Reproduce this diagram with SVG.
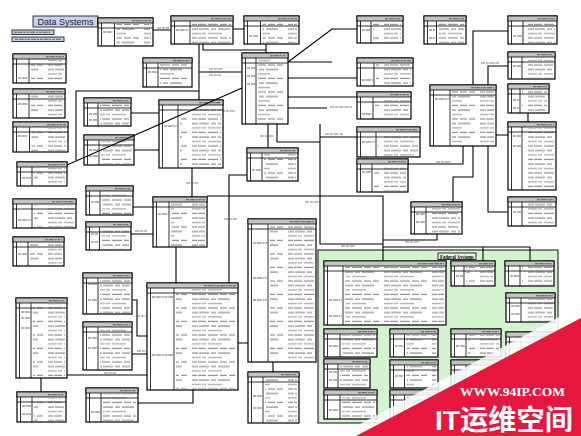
<svg xmlns="http://www.w3.org/2000/svg" width="581" height="436" viewBox="0 0 581 436">
<style>
.b{fill:#fff;stroke:#000;stroke-width:1.2}
.h{fill:#c4c4c4;stroke:#000;stroke-width:.8}
.d{fill:none;stroke:#000;stroke-width:.8}
.t{fill:url(#tx);opacity:.6}
.k{fill:none;stroke:#333;stroke-width:1.1;stroke-dasharray:3 .8 5 .8 2 .8;opacity:.75}
.c{fill:none;stroke:#000;stroke-width:1.1}
.lb{fill:none;stroke:#555;stroke-width:1.1;stroke-dasharray:4 .8 3 .8 5 .8;opacity:.75}
.bl{fill:#c8d3ea;stroke:#222;stroke-width:.9}
</style>
<defs>
<pattern id="tx" width="48" height="13.5" patternUnits="userSpaceOnUse">
<path d="M0 2h6M7 2h10M19 2h5M26 2h12M0 6.5h9M10 6.5h4M16 6.5h14M0 11h5M6 11h8M16 11h10M28 11h7M37 11h6" stroke="#444" stroke-width="1.1"/>
</pattern>
</defs>
<rect width="581" height="436" fill="#fff"/>

<g id="title">
<rect class="bl" x="33" y="16" width="65" height="11"/>
<text x="65.5" y="25" font-family="Liberation Sans, Arial, sans-serif" font-size="9" fill="#1a2240" text-anchor="middle">Data Systems</text>
<rect class="bl" x="12" y="30" width="42" height="4.5"/>
<rect class="bl" x="12" y="37" width="52" height="4.5"/>
<path class="k" d="M14 32.3h37M15 39.3h46"/>
</g>

<g id="federal-region">
<rect x="318" y="250" width="240" height="173" fill="#d3f4cf" stroke="#333" stroke-width="1.2"/>
<rect x="438" y="253" width="38" height="6.5" fill="#e8f7e4" stroke="#000" stroke-width=".8"/>
<text x="457" y="258.5" font-family="Liberation Serif, Times New Roman, serif" font-size="5.5" font-weight="bold" text-anchor="middle" textLength="34" lengthAdjust="spacingAndGlyphs">Federal Systems</text>
</g>

<g id="connectors">
<path class="c" d="M153 30H171M233 29H244M203 44V50H266M266 44V53M199 44V100M199 91H76V160M199 72H242"/>
<path class="c" d="M288 62L332 29H357M288 62H332M288 78H357M288 97H357M288 108H327"/>
<path class="c" d="M268 124V148M277 124V142H320M320 124V244H383M320 137H357"/>
<path class="c" d="M131 113H159M134 150H159M133 207H153M131 234H153M192 168V197M176 247V283M247 175H229V283"/>
<path class="c" d="M207 196H383V261M383 240H437V234M383 247H530V261M483 247V261"/>
<path class="c" d="M408 164H463V146M453 202V177H473V146M488 146V212H508M473 85V31H508M488 85V66H508M528 113V122M496 135H508"/>
<path class="c" d="M238 343H248M273 362V372M67 375H147M41 378V392M132 354H147M132 300H137V336H147M138 403H193V390"/>
<path class="lb" d="M157 28h12M209 69h14M209 75h12M221 111h14M330 107h22M325 134h18M260 136h14M481 63h18M436 162h15M186 183h12M135 231h12M224 219h13M305 202h15M341 246h14M405 242h15M104 373h12M137 351h9M136 316h10"/>
</g>

<g id="t1"><rect class="b" x="98" y="18" width="55" height="28"/><rect class="h" x="98" y="18" width="55" height="5"/><path class="d" d="M98 28h55M101.5 23v23M114.5 23v23"/><rect class="t" x="116.5" y="24" width="34.5" height="21"/><path class="k" d="M132 20.7h19M103 32h10"/></g>
<g id="t2"><rect class="b" x="171" y="16" width="62" height="28"/><rect class="h" x="171" y="16" width="62" height="5"/><path class="d" d="M171 26h62M174.5 21v23M190 21v23"/><rect class="t" x="192" y="22" width="39" height="21"/><path class="k" d="M211 18.7h20M176 30h13"/></g>
<g id="t3"><rect class="b" x="244" y="16" width="55" height="28"/><rect class="h" x="244" y="16" width="55" height="5"/><path class="d" d="M244 26h55M247.5 21v23M260.5 21v23"/><rect class="t" x="262.5" y="22" width="34.5" height="21"/><path class="k" d="M278 18.7h19M249 36h10"/></g>
<g id="t4"><rect class="b" x="357" y="16" width="46" height="27"/><rect class="h" x="357" y="16" width="46" height="5"/><path class="d" d="M357 26h46M360.5 21v22M371 21v22"/><rect class="t" x="373" y="22" width="28" height="20"/><path class="k" d="M385 18.7h16M362 30h8"/></g>
<g id="t5"><rect class="b" x="424" y="16" width="42" height="28"/><rect class="h" x="424" y="16" width="42" height="5"/><path class="d" d="M424 26h42M427.5 21v23M436.5 21v23"/><rect class="t" x="438.5" y="22" width="25.5" height="21"/><path class="k" d="M449 18.7h15M429 30h6M429 38h6"/></g>
<g id="t6"><rect class="b" x="508" y="16" width="49" height="28"/><rect class="h" x="508" y="16" width="49" height="5"/><path class="d" d="M508 26h49M511.5 21v23M523 21v23"/><rect class="t" x="525" y="22" width="30" height="21"/><path class="k" d="M538 18.7h17M513 36h9"/></g>
<g id="t7"><rect class="b" x="13" y="54" width="53" height="29"/><rect class="h" x="13" y="54" width="53" height="5"/><path class="d" d="M13 64h53M16.5 59v24M29 59v24"/><rect class="t" x="31" y="60" width="33" height="22"/><path class="k" d="M46 56.7h18M18 78h10"/></g>
<g id="t8"><rect class="b" x="143" y="58" width="49" height="29"/><rect class="h" x="143" y="58" width="49" height="5"/><path class="d" d="M143 68h49M146.5 63v24M158 63v24"/><rect class="t" x="160" y="64" width="30" height="22"/><path class="k" d="M173 60.7h17M148 72h9"/></g>
<g id="t9"><rect class="b" x="242" y="53" width="46" height="71"/><rect class="h" x="242" y="53" width="46" height="5"/><path class="d" d="M242 63h46M245.5 58v66M256 58v66"/><rect class="t" x="258" y="59" width="28" height="64"/><path class="k" d="M270 55.7h16M247 68h8M247 76h8M247 84h8"/></g>
<g id="t10"><rect class="b" x="357" y="58" width="56" height="28"/><rect class="h" x="357" y="58" width="56" height="5"/><path class="d" d="M357 68h56M360.5 63v23M374 63v23"/><rect class="t" x="376" y="64" width="35" height="21"/><path class="k" d="M391 60.7h20M362 80h11"/></g>
<g id="t11"><rect class="b" x="508" y="52" width="47" height="27"/><rect class="h" x="508" y="52" width="47" height="5"/><path class="d" d="M508 62h47M511.5 57v22M522 57v22"/><rect class="t" x="524" y="58" width="29" height="20"/><path class="k" d="M537 54.7h16M513 66h8"/></g>
<g id="t12"><rect class="b" x="13" y="89" width="52" height="29"/><rect class="h" x="13" y="89" width="52" height="5"/><path class="d" d="M13 99h52M16.5 94v24M29 94v24"/><rect class="t" x="31" y="95" width="32" height="22"/><path class="k" d="M46 91.7h17M18 104h10"/></g>
<g id="t13"><rect class="b" x="357" y="92" width="54" height="27"/><rect class="h" x="357" y="92" width="54" height="5"/><path class="d" d="M357 102h54M360.5 97v22M373 97v22"/><rect class="t" x="375" y="98" width="34" height="20"/><path class="k" d="M390 94.7h19M362 114h10"/></g>
<g id="t14"><rect class="b" x="508" y="84" width="41" height="29"/><rect class="h" x="508" y="84" width="41" height="5"/><path class="d" d="M508 94h41M511.5 89v24M520 89v24"/><rect class="t" x="522" y="90" width="25" height="22"/><path class="k" d="M533 86.7h14M513 100h6M513 108h6"/></g>
<g id="t15"><rect class="b" x="430" y="85" width="66" height="61"/><rect class="h" x="430" y="85" width="66" height="5"/><path class="d" d="M430 95h66M433.5 90v56M450 90v56"/><rect class="t" x="452" y="91" width="42" height="54"/><path class="k" d="M471 87.7h23M435 99h14"/></g>
<g id="t16"><rect class="b" x="84" y="98" width="47" height="28"/><rect class="h" x="84" y="98" width="47" height="5"/><path class="d" d="M84 108h47M87.5 103v23M98 103v23"/><rect class="t" x="100" y="104" width="29" height="21"/><path class="k" d="M113 100.7h16M89 114h8M89 120h8"/></g>
<g id="t17"><rect class="b" x="159" y="100" width="64" height="68"/><rect class="h" x="159" y="100" width="64" height="5"/><path class="d" d="M159 110h64M162.5 105v63M178 105v63"/><rect class="t" x="180" y="106" width="41" height="61"/><path class="k" d="M199 102.7h22M164 126h13"/></g>
<g id="t18"><rect class="b" x="13" y="122" width="55" height="30"/><rect class="h" x="13" y="122" width="55" height="5"/><path class="d" d="M13 132h55M16.5 127v25M29.5 127v25"/><rect class="t" x="31.5" y="128" width="34.5" height="23"/><path class="k" d="M47 124.7h19M18 136h10"/></g>
<g id="t19"><rect class="b" x="357" y="127" width="63" height="30"/><rect class="h" x="357" y="127" width="63" height="5"/><path class="d" d="M357 137h63M360.5 132v25M376 132v25"/><rect class="t" x="378" y="133" width="40" height="23"/><path class="k" d="M396 129.7h22M362 142h13"/></g>
<g id="t20"><rect class="b" x="508" y="122" width="48" height="68"/><rect class="h" x="508" y="122" width="48" height="5"/><path class="d" d="M508 132h48M511.5 127v63M522 127v63"/><rect class="t" x="524" y="128" width="30" height="61"/><path class="k" d="M537 124.7h17M513 136h8M513 146h8"/></g>
<g id="t21"><rect class="b" x="84" y="135" width="50" height="30"/><rect class="h" x="84" y="135" width="50" height="5"/><path class="d" d="M84 145h50M87.5 140v25M99 140v25"/><rect class="t" x="101" y="141" width="31" height="23"/><path class="k" d="M115 137.7h17M89 150h9M89 156h9"/></g>
<g id="t22"><rect class="b" x="247" y="148" width="51" height="33"/><rect class="h" x="247" y="148" width="51" height="5"/><path class="d" d="M247 158h51M250.5 153v28M262 153v28"/><rect class="t" x="264" y="154" width="32" height="26"/><path class="k" d="M280 150.7h16M252 170h9"/></g>
<g id="t23"><rect class="b" x="357" y="159" width="51" height="33"/><rect class="h" x="357" y="159" width="51" height="5"/><path class="d" d="M357 169h51M360.5 164v28M372 164v28"/><rect class="t" x="374" y="165" width="32" height="26"/><path class="k" d="M388 161.7h18M362 172h9"/></g>
<g id="t24"><rect class="b" x="17" y="162" width="50" height="24"/><rect class="h" x="17" y="162" width="50" height="5"/><path class="d" d="M17 172h50M20.5 167v19M32 167v19"/><rect class="t" x="34" y="168" width="31" height="17"/><path class="k" d="M48 164.7h17M22 178h9"/></g>
<g id="t25"><rect class="b" x="86" y="186" width="47" height="29"/><rect class="h" x="86" y="186" width="47" height="5"/><path class="d" d="M86 196h47M89.5 191v24M100 191v24"/><rect class="t" x="102" y="192" width="29" height="22"/><path class="k" d="M115 188.7h16M91 202h8"/></g>
<g id="t26"><rect class="b" x="153" y="197" width="54" height="50"/><rect class="h" x="153" y="197" width="54" height="5"/><path class="d" d="M153 207h54M156.5 202v45M169 202v45"/><rect class="t" x="171" y="203" width="34" height="43"/><path class="k" d="M186 199.7h19M158 214h10"/></g>
<g id="t27"><rect class="b" x="508" y="197" width="48" height="29"/><rect class="h" x="508" y="197" width="48" height="5"/><path class="d" d="M508 207h48M511.5 202v24M522 202v24"/><rect class="t" x="524" y="203" width="30" height="22"/><path class="k" d="M537 199.7h17M513 212h8"/></g>
<g id="t28"><rect class="b" x="13" y="199" width="63" height="29"/><rect class="h" x="13" y="199" width="63" height="5"/><path class="d" d="M13 209h63M16.5 204v24M32 204v24"/><rect class="t" x="34" y="205" width="40" height="22"/><path class="k" d="M52 201.7h22M18 220h13"/></g>
<g id="t29"><rect class="b" x="411" y="202" width="51" height="32"/><rect class="h" x="411" y="202" width="51" height="5"/><path class="d" d="M411 212h51M414.5 207v27M426 207v27"/><rect class="t" x="428" y="208" width="32" height="25"/><path class="k" d="M442 204.7h18M416 214h9M416 222h9"/></g>
<g id="t30"><rect class="b" x="86" y="222" width="45" height="28"/><rect class="h" x="86" y="222" width="45" height="5"/><path class="d" d="M86 232h45M89.5 227v23M99.5 227v23"/><rect class="t" x="101.5" y="228" width="27.5" height="21"/><path class="k" d="M113 224.7h16M91 234h7M91 242h7"/></g>
<g id="t31"><rect class="b" x="248" y="219" width="68" height="143"/><rect class="h" x="248" y="219" width="68" height="5"/><path class="d" d="M248 229h68M251.5 224v138M268 224v138"/><rect class="t" x="270" y="225" width="44" height="136"/><path class="k" d="M290 221.7h24M253 243h14M253 278h14M253 300h14"/></g>
<g id="t32"><rect class="b" x="13" y="237" width="51" height="29"/><rect class="h" x="13" y="237" width="51" height="5"/><path class="d" d="M13 247h51M16.5 242v24M28 242v24"/><rect class="t" x="30" y="243" width="32" height="22"/><path class="k" d="M45 239.7h17M18 254h9"/></g>
<g id="t33"><rect class="b" x="83" y="273" width="49" height="41"/><rect class="h" x="83" y="273" width="49" height="5"/><path class="d" d="M83 283h49M86.5 278v36M98 278v36"/><rect class="t" x="100" y="279" width="30" height="34"/><path class="k" d="M113 275.7h17M88 284h9M88 300h9"/></g>
<g id="t34"><rect class="b" x="147" y="283" width="91" height="107"/><rect class="h" x="147" y="283" width="91" height="5"/><path class="d" d="M147 293h91M150.5 288v102M174 288v102"/><rect class="t" x="176" y="289" width="60" height="100"/><path class="k" d="M204 285.7h32M152 297h21M152 355h21"/></g>
<g id="t35"><rect class="b" x="16" y="298" width="51" height="80"/><rect class="h" x="16" y="298" width="51" height="5"/><path class="d" d="M16 308h51M19.5 303v75M31 303v75"/><rect class="t" x="33" y="304" width="32" height="73"/><path class="k" d="M49 300.7h16M21 312h9M21 318h9M21 328h9"/></g>
<g id="t36"><rect class="b" x="83" y="322" width="49" height="48"/><rect class="h" x="83" y="322" width="49" height="5"/><path class="d" d="M83 332h49M86.5 327v43M98 327v43"/><rect class="t" x="100" y="328" width="30" height="41"/><path class="k" d="M113 324.7h17M88 338h9M88 348h9"/></g>
<g id="t37"><rect class="b" x="248" y="372" width="51" height="51"/><rect class="h" x="248" y="372" width="51" height="5"/><path class="d" d="M248 382h51M251.5 377v46M263 377v46"/><rect class="t" x="265" y="378" width="32" height="44"/><path class="k" d="M281 374.7h16M253 396h9M253 408h9"/></g>
<g id="t38"><rect class="b" x="17" y="392" width="49" height="30"/><rect class="h" x="17" y="392" width="49" height="5"/><path class="d" d="M17 402h49M20.5 397v25M32 397v25"/><rect class="t" x="34" y="398" width="30" height="23"/><path class="k" d="M48 394.7h16M22 406h9M22 414h9"/></g>
<g id="t39"><rect class="b" x="86" y="388" width="52" height="34"/><rect class="h" x="86" y="388" width="52" height="5"/><path class="d" d="M86 398h52M89.5 393v29M101 393v29"/><rect class="t" x="103" y="394" width="33" height="27"/><path class="k" d="M120 390.7h16M91 412h9"/></g>

<g id="g1"><rect class="b" x="324" y="261" width="122" height="64"/><rect class="h" x="324" y="261" width="122" height="5"/><path class="d" d="M324 271h122M327.5 266v59M343 266v59"/><rect class="t" x="345" y="267" width="99" height="57"/><path class="k" d="M418 263.7h26M329 300h13M329 316h13"/></g>
<g id="g2"><rect class="b" x="451" y="261" width="44" height="25"/><rect class="h" x="451" y="261" width="44" height="5"/><path class="d" d="M451 271h44M454.5 266v20M464 266v20"/><rect class="t" x="466" y="267" width="27" height="18"/><path class="k" d="M479 263.7h14M456 276h7"/></g>
<g id="g3"><rect class="b" x="505" y="261" width="49" height="25"/><rect class="h" x="505" y="261" width="49" height="5"/><path class="d" d="M505 271h49M508.5 266v20M520 266v20"/><rect class="t" x="522" y="267" width="30" height="18"/><path class="k" d="M535 263.7h17M510 276h9"/></g>
<g id="g4"><rect class="b" x="506" y="293" width="49" height="29"/><rect class="h" x="506" y="293" width="49" height="5"/><path class="d" d="M506 303h49M509.5 298v24M521 298v24"/><rect class="t" x="523" y="299" width="30" height="22"/><path class="k" d="M536 295.7h17M511 306h9M511 314h9"/></g>
<g id="g5"><rect class="b" x="324" y="329" width="53" height="28"/><rect class="h" x="324" y="329" width="53" height="5"/><path class="d" d="M324 339h53M327.5 334v23M340 334v23"/><rect class="t" x="342" y="335" width="33" height="21"/><path class="k" d="M358 331.7h17M329 346h10"/></g>
<g id="g6"><rect class="b" x="390" y="329" width="48" height="28"/><rect class="h" x="390" y="329" width="48" height="5"/><path class="d" d="M390 339h48M393.5 334v23M404.5 334v23"/><rect class="t" x="406.5" y="335" width="29.5" height="21"/><path class="k" d="M421 331.7h15M395 346h8"/></g>
<g id="g7"><rect class="b" x="451" y="329" width="50" height="28"/><rect class="h" x="451" y="329" width="50" height="5"/><path class="d" d="M451 339h50M454.5 334v23M466 334v23"/><rect class="t" x="468" y="335" width="31" height="21"/><path class="k" d="M482 331.7h17M456 346h9"/></g>
<g id="g8"><rect class="b" x="506" y="332" width="49" height="28"/><rect class="h" x="506" y="332" width="49" height="5"/><path class="d" d="M506 342h49M509.5 337v23M521 337v23"/><rect class="t" x="523" y="338" width="30" height="21"/><path class="k" d="M536 334.7h17M511 348h9"/></g>
<g id="g9"><rect class="b" x="324" y="359" width="46" height="29"/><rect class="h" x="324" y="359" width="46" height="5"/><path class="d" d="M324 369h46M327.5 364v24M338 364v24"/><rect class="t" x="340" y="365" width="28" height="22"/><path class="k" d="M352 361.7h16M329 372h8M329 380h8"/></g>
<g id="g10"><rect class="b" x="390" y="360" width="48" height="28"/><rect class="h" x="390" y="360" width="48" height="5"/><path class="d" d="M390 370h48M393.5 365v23M404.5 365v23"/><rect class="t" x="406.5" y="366" width="29.5" height="21"/><path class="k" d="M421 362.7h15M395 376h8"/></g>
<g id="g11"><rect class="b" x="451" y="360" width="50" height="28"/><rect class="h" x="451" y="360" width="50" height="5"/><path class="d" d="M451 370h50M454.5 365v23M466 365v23"/><rect class="t" x="468" y="366" width="31" height="21"/><path class="k" d="M482 362.7h17M456 376h9"/></g>
<g id="g12"><rect class="b" x="324" y="390" width="53" height="29"/><rect class="h" x="324" y="390" width="53" height="5"/><path class="d" d="M324 400h53M327.5 395v24M340 395v24"/><rect class="t" x="342" y="396" width="33" height="22"/><path class="k" d="M358 392.7h17M329 410h10"/></g>
<g id="g13"><rect class="b" x="390" y="390" width="48" height="30"/><rect class="h" x="390" y="390" width="48" height="5"/><path class="d" d="M390 400h48M393.5 395v25M404.5 395v25"/><rect class="t" x="406.5" y="396" width="29.5" height="23"/><path class="k" d="M421 392.7h15M395 406h8"/></g>

<g id="diagonal-connector">
<path class="c" d="M67 165L242 88"/>
</g>

<g id="watermark">
<polygon points="338,436 581,305 581,436" fill="#fff" opacity=".85"/>
<polygon points="356,436 581,318 581,436" fill="#e6163d"/>
<text x="460" y="396" font-family="Liberation Serif, Times New Roman, serif" font-size="12" font-weight="bold" fill="#fff" textLength="105" lengthAdjust="spacingAndGlyphs">WWW.94IP.COM</text>
<text x="435" y="430" font-family="Liberation Sans, Noto Sans CJK SC, sans-serif" font-size="28" font-weight="bold" fill="#fff" textLength="138" lengthAdjust="spacingAndGlyphs">IT运维空间</text>
</g>
</svg>
